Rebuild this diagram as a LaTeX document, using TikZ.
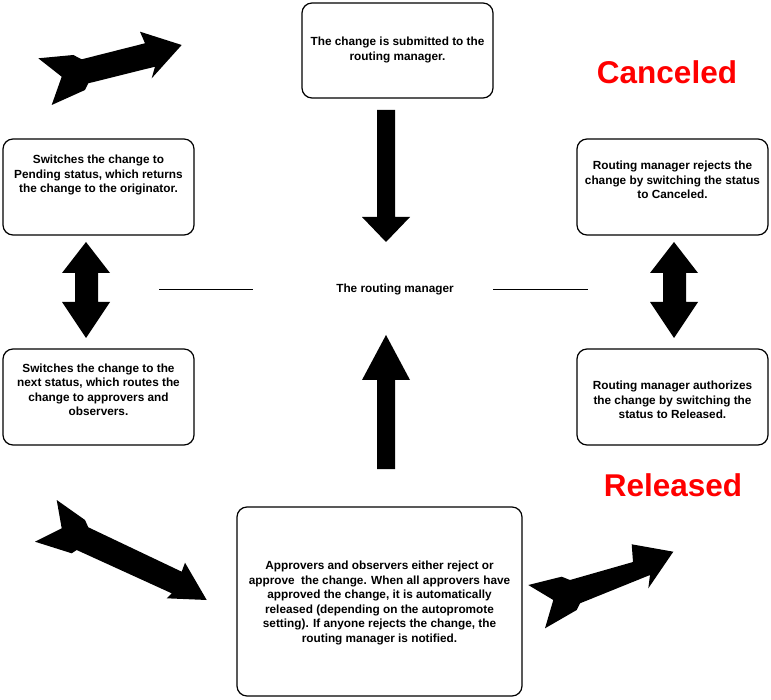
\documentclass[tikz,border=0pt]{standalone}
\usepackage{fontspec}
\setmainfont{Liberation Sans}
\begin{document}
\begin{tikzpicture}[x=1pt,y=-1pt,
  box/.style={draw, line width=1.2pt, rounded corners=10pt, inner sep=0pt, rectangle},
  txt/.style={font=\bfseries\fontsize{11.8}{14.5}\selectfont, align=center, inner sep=0pt},
  big/.style={font=\bfseries\fontsize{31.5}{36}\selectfont, text=red, inner sep=0pt},
  blk/.style={fill=black, draw=none},
  thinline/.style={draw, line width=0.9pt}]
\useasboundingbox (0,0) rectangle (771,700);

% boxes
\node[box, minimum width=191pt, minimum height=95pt] (b1) at (397.5,50.5) {};
\node[box, minimum width=191pt, minimum height=96pt] (b2) at (98.5,187) {};
\node[box, minimum width=191pt, minimum height=96pt] (b3) at (672.5,187) {};
\node[box, minimum width=191pt, minimum height=96pt] (b4) at (98.5,397) {};
\node[box, minimum width=191pt, minimum height=96pt] (b5) at (672.5,397) {};
\node[box, minimum width=285pt, minimum height=189pt] (b6) at (379.5,601.5) {};

% texts
\node[txt] (t1) at (397.5,50) {The change is submitted to the\\routing manager.};
\node[txt] (t2) at (98.5,175) {Switches the change to\\Pending status, which returns\\the change to the originator.};
\node[txt] (t3) at (672.5,180) {Routing manager rejects the\\change by switching the status\\to Canceled.};
\node[txt] (t4) at (98.5,390) {Switches the change to the\\next status, which routes the\\change to approvers and\\observers.};
\node[txt] (t5) at (672.5,400) {Routing manager authorizes\\the change by switching the\\status to Released.};
\node[txt] (t6) at (379.5,603) {Approvers and observers either reject or\\approve\ \ the change. When all approvers have\\approved the change, it is automatically\\released (depending on the autopromote\\setting). If anyone rejects the change, the\\routing manager is notified.};

\node[txt] (rm) at (395,289) {The routing manager};
\node[big] (canc) at (667,72) {Canceled};
\node[big] (rel) at (673,485) {Released};

% side lines
\coordinate (l1) at (159,289);
\coordinate (l2) at (253,289);
\coordinate (r1) at (493,289);
\coordinate (r2) at (588,289);
\draw[thinline] (l1) -- (l2);
\draw[thinline] (r1) -- (r2);

% vertical block arrows
\fill[blk] (377,110) -- (395,110) -- (395,217) -- (410,217) -- (386,242) -- (362,217) -- (377,217) -- cycle;
\fill[blk] (377,469) -- (395,469) -- (395,380) -- (410,380) -- (386,335) -- (362,380) -- (377,380) -- cycle;

% double arrows
\fill[blk] (86,242) -- (110,273) -- (98,273) -- (98,302) -- (110,302) -- (86,338) -- (62,302) -- (75,302) -- (75,273) -- (62,273) -- cycle;
\fill[blk] (674,242) -- (698,273) -- (686,273) -- (686,302) -- (698,302) -- (674,338) -- (650,302) -- (663,302) -- (663,273) -- (650,273) -- cycle;

% dart arrows
\fill[blk] (38.3,58.3) -- (73.3,55) -- (81.7,59.3) -- (145,43.3) -- (140,31.7) -- (181.7,45) -- (151.7,78.3) -- (155,66.7) -- (88.3,83.3) -- (85,90) -- (51.7,105) -- (61.7,76.7) -- cycle;
\fill[blk] (528.3,585) -- (561.7,576.7) -- (570,580) -- (633,562) -- (631.7,544.3) -- (673.3,551.7) -- (648.3,588.3) -- (650,575) -- (580,603.3) -- (576.7,610) -- (545,628.3) -- (553.3,600) -- cycle;
\fill[blk] (56.7,500) -- (85,520) -- (88.3,527.3) -- (181.7,571.7) -- (185,562.7) -- (206.7,600) -- (166.7,598.3) -- (171.7,593.3) -- (76.7,550) -- (71.7,553.3) -- (35,541.7) -- (61.7,528.3) -- cycle;
\end{tikzpicture}
\end{document}
